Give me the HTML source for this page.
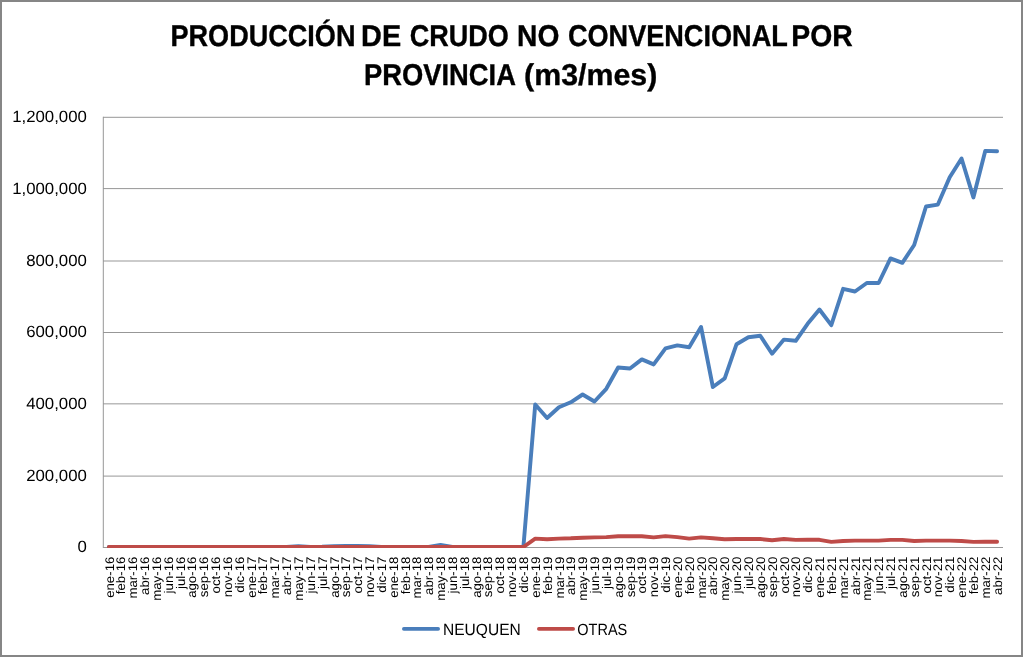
<!DOCTYPE html>
<html><head><meta charset="utf-8"><style>
html,body{margin:0;padding:0;background:#fff;}
body{width:1023px;height:657px;overflow:hidden;}
svg{display:block;font-family:"Liberation Sans",sans-serif;will-change:transform;text-rendering:geometricPrecision;}
</style></head><body>
<svg width="1023" height="657" viewBox="0 0 1023 657">
<rect x="0" y="0" width="1023" height="657" fill="#fff"/>
<g font-weight="bold" fill="#000" stroke="#000" stroke-width="0.35"><text font-size="30.0" transform="translate(170.50,45.7) scale(0.9023,1)">PRODUCCIÓN</text><text font-size="30.0" transform="translate(361.10,45.7) scale(0.9610,1)">DE</text><text font-size="30.0" transform="translate(409.80,45.7) scale(0.9003,1)">CRUDO</text><text font-size="30.0" transform="translate(517.10,45.7) scale(0.9392,1)">NO</text><text font-size="30.0" transform="translate(567.90,45.7) scale(0.9035,1)">CONVENCIONAL</text><text font-size="30.0" transform="translate(791.30,45.7) scale(0.9450,1)">POR</text><text font-size="30.0" transform="translate(364.00,84.9) scale(0.9111,1)">PROVINCIA</text><text font-size="30.0" transform="translate(524.10,84.9) scale(1.0116,1)">(m3/mes)</text></g>
<g stroke="#979797" stroke-width="1"><line x1="103" y1="117.3" x2="1003" y2="117.3"/><line x1="103" y1="188.6" x2="1003" y2="188.6"/><line x1="103" y1="261.0" x2="1003" y2="261.0"/><line x1="103" y1="332.5" x2="1003" y2="332.5"/><line x1="103" y1="403.85" x2="1003" y2="403.85"/><line x1="103" y1="476.1" x2="1003" y2="476.1"/>
<line x1="103.3" y1="116.8" x2="103.3" y2="548"/>
<line x1="103" y1="547.5" x2="1003" y2="547.5"/>
</g>
<g font-size="16.3" fill="#000"><text transform="translate(86.8,122.40) scale(1.03,1)" text-anchor="end">1,200,000</text><text transform="translate(86.8,194.07) scale(1.03,1)" text-anchor="end">1,000,000</text><text transform="translate(86.8,265.73) scale(1.03,1)" text-anchor="end">800,000</text><text transform="translate(86.8,337.40) scale(1.03,1)" text-anchor="end">600,000</text><text transform="translate(86.8,409.07) scale(1.03,1)" text-anchor="end">400,000</text><text transform="translate(86.8,480.73) scale(1.03,1)" text-anchor="end">200,000</text><text transform="translate(86.8,552.40) scale(1.03,1)" text-anchor="end">0</text></g>
<g font-size="12.5" fill="#000"><text transform="translate(113.52,556.6) rotate(-90) scale(1.06,1)" text-anchor="end">ene-16</text><text transform="translate(125.36,556.6) rotate(-90) scale(1.06,1)" text-anchor="end">feb-16</text><text transform="translate(137.21,556.6) rotate(-90) scale(1.06,1)" text-anchor="end">mar-16</text><text transform="translate(149.05,556.6) rotate(-90) scale(1.06,1)" text-anchor="end">abr-16</text><text transform="translate(160.89,556.6) rotate(-90) scale(1.06,1)" text-anchor="end">may-16</text><text transform="translate(172.73,556.6) rotate(-90) scale(1.06,1)" text-anchor="end">jun-16</text><text transform="translate(184.57,556.6) rotate(-90) scale(1.06,1)" text-anchor="end">jul-16</text><text transform="translate(196.42,556.6) rotate(-90) scale(1.06,1)" text-anchor="end">ago-16</text><text transform="translate(208.26,556.6) rotate(-90) scale(1.06,1)" text-anchor="end">sep-16</text><text transform="translate(220.10,556.6) rotate(-90) scale(1.06,1)" text-anchor="end">oct-16</text><text transform="translate(231.94,556.6) rotate(-90) scale(1.06,1)" text-anchor="end">nov-16</text><text transform="translate(243.78,556.6) rotate(-90) scale(1.06,1)" text-anchor="end">dic-16</text><text transform="translate(255.63,556.6) rotate(-90) scale(1.06,1)" text-anchor="end">ene-17</text><text transform="translate(267.47,556.6) rotate(-90) scale(1.06,1)" text-anchor="end">feb-17</text><text transform="translate(279.31,556.6) rotate(-90) scale(1.06,1)" text-anchor="end">mar-17</text><text transform="translate(291.15,556.6) rotate(-90) scale(1.06,1)" text-anchor="end">abr-17</text><text transform="translate(302.99,556.6) rotate(-90) scale(1.06,1)" text-anchor="end">may-17</text><text transform="translate(314.84,556.6) rotate(-90) scale(1.06,1)" text-anchor="end">jun-17</text><text transform="translate(326.68,556.6) rotate(-90) scale(1.06,1)" text-anchor="end">jul-17</text><text transform="translate(338.52,556.6) rotate(-90) scale(1.06,1)" text-anchor="end">ago-17</text><text transform="translate(350.36,556.6) rotate(-90) scale(1.06,1)" text-anchor="end">sep-17</text><text transform="translate(362.21,556.6) rotate(-90) scale(1.06,1)" text-anchor="end">oct-17</text><text transform="translate(374.05,556.6) rotate(-90) scale(1.06,1)" text-anchor="end">nov-17</text><text transform="translate(385.89,556.6) rotate(-90) scale(1.06,1)" text-anchor="end">dic-17</text><text transform="translate(397.73,556.6) rotate(-90) scale(1.06,1)" text-anchor="end">ene-18</text><text transform="translate(409.57,556.6) rotate(-90) scale(1.06,1)" text-anchor="end">feb-18</text><text transform="translate(421.42,556.6) rotate(-90) scale(1.06,1)" text-anchor="end">mar-18</text><text transform="translate(433.26,556.6) rotate(-90) scale(1.06,1)" text-anchor="end">abr-18</text><text transform="translate(445.10,556.6) rotate(-90) scale(1.06,1)" text-anchor="end">may-18</text><text transform="translate(456.94,556.6) rotate(-90) scale(1.06,1)" text-anchor="end">jun-18</text><text transform="translate(468.78,556.6) rotate(-90) scale(1.06,1)" text-anchor="end">jul-18</text><text transform="translate(480.63,556.6) rotate(-90) scale(1.06,1)" text-anchor="end">ago-18</text><text transform="translate(492.47,556.6) rotate(-90) scale(1.06,1)" text-anchor="end">sep-18</text><text transform="translate(504.31,556.6) rotate(-90) scale(1.06,1)" text-anchor="end">oct-18</text><text transform="translate(516.15,556.6) rotate(-90) scale(1.06,1)" text-anchor="end">nov-18</text><text transform="translate(527.99,556.6) rotate(-90) scale(1.06,1)" text-anchor="end">dic-18</text><text transform="translate(539.84,556.6) rotate(-90) scale(1.06,1)" text-anchor="end">ene-19</text><text transform="translate(551.68,556.6) rotate(-90) scale(1.06,1)" text-anchor="end">feb-19</text><text transform="translate(563.52,556.6) rotate(-90) scale(1.06,1)" text-anchor="end">mar-19</text><text transform="translate(575.36,556.6) rotate(-90) scale(1.06,1)" text-anchor="end">abr-19</text><text transform="translate(587.21,556.6) rotate(-90) scale(1.06,1)" text-anchor="end">may-19</text><text transform="translate(599.05,556.6) rotate(-90) scale(1.06,1)" text-anchor="end">jun-19</text><text transform="translate(610.89,556.6) rotate(-90) scale(1.06,1)" text-anchor="end">jul-19</text><text transform="translate(622.73,556.6) rotate(-90) scale(1.06,1)" text-anchor="end">ago-19</text><text transform="translate(634.57,556.6) rotate(-90) scale(1.06,1)" text-anchor="end">sep-19</text><text transform="translate(646.42,556.6) rotate(-90) scale(1.06,1)" text-anchor="end">oct-19</text><text transform="translate(658.26,556.6) rotate(-90) scale(1.06,1)" text-anchor="end">nov-19</text><text transform="translate(670.10,556.6) rotate(-90) scale(1.06,1)" text-anchor="end">dic-19</text><text transform="translate(681.94,556.6) rotate(-90) scale(1.06,1)" text-anchor="end">ene-20</text><text transform="translate(693.78,556.6) rotate(-90) scale(1.06,1)" text-anchor="end">feb-20</text><text transform="translate(705.63,556.6) rotate(-90) scale(1.06,1)" text-anchor="end">mar-20</text><text transform="translate(717.47,556.6) rotate(-90) scale(1.06,1)" text-anchor="end">abr-20</text><text transform="translate(729.31,556.6) rotate(-90) scale(1.06,1)" text-anchor="end">may-20</text><text transform="translate(741.15,556.6) rotate(-90) scale(1.06,1)" text-anchor="end">jun-20</text><text transform="translate(752.99,556.6) rotate(-90) scale(1.06,1)" text-anchor="end">jul-20</text><text transform="translate(764.84,556.6) rotate(-90) scale(1.06,1)" text-anchor="end">ago-20</text><text transform="translate(776.68,556.6) rotate(-90) scale(1.06,1)" text-anchor="end">sep-20</text><text transform="translate(788.52,556.6) rotate(-90) scale(1.06,1)" text-anchor="end">oct-20</text><text transform="translate(800.36,556.6) rotate(-90) scale(1.06,1)" text-anchor="end">nov-20</text><text transform="translate(812.21,556.6) rotate(-90) scale(1.06,1)" text-anchor="end">dic-20</text><text transform="translate(824.05,556.6) rotate(-90) scale(1.06,1)" text-anchor="end">ene-21</text><text transform="translate(835.89,556.6) rotate(-90) scale(1.06,1)" text-anchor="end">feb-21</text><text transform="translate(847.73,556.6) rotate(-90) scale(1.06,1)" text-anchor="end">mar-21</text><text transform="translate(859.57,556.6) rotate(-90) scale(1.06,1)" text-anchor="end">abr-21</text><text transform="translate(871.42,556.6) rotate(-90) scale(1.06,1)" text-anchor="end">may-21</text><text transform="translate(883.26,556.6) rotate(-90) scale(1.06,1)" text-anchor="end">jun-21</text><text transform="translate(895.10,556.6) rotate(-90) scale(1.06,1)" text-anchor="end">jul-21</text><text transform="translate(906.94,556.6) rotate(-90) scale(1.06,1)" text-anchor="end">ago-21</text><text transform="translate(918.78,556.6) rotate(-90) scale(1.06,1)" text-anchor="end">sep-21</text><text transform="translate(930.63,556.6) rotate(-90) scale(1.06,1)" text-anchor="end">oct-21</text><text transform="translate(942.47,556.6) rotate(-90) scale(1.06,1)" text-anchor="end">nov-21</text><text transform="translate(954.31,556.6) rotate(-90) scale(1.06,1)" text-anchor="end">dic-21</text><text transform="translate(966.15,556.6) rotate(-90) scale(1.06,1)" text-anchor="end">ene-22</text><text transform="translate(977.99,556.6) rotate(-90) scale(1.06,1)" text-anchor="end">feb-22</text><text transform="translate(989.84,556.6) rotate(-90) scale(1.06,1)" text-anchor="end">mar-22</text><text transform="translate(1001.68,556.6) rotate(-90) scale(1.06,1)" text-anchor="end">abr-22</text></g>
<defs><clipPath id="pc"><rect x="103" y="100" width="900" height="448"/></clipPath></defs>
<g fill="none" stroke-width="3.9" stroke-linejoin="round" stroke-linecap="round" clip-path="url(#pc)">
<polyline stroke="#4A7EBB" points="108.92,547.00 120.76,547.00 132.61,547.00 144.45,547.00 156.29,547.00 168.13,547.00 179.97,547.00 191.82,547.00 203.66,547.00 215.50,547.00 227.34,547.00 239.18,547.00 251.03,547.00 262.87,547.00 274.71,547.00 286.55,547.00 298.39,546.10 310.24,547.00 322.08,546.80 333.92,546.10 345.76,546.00 357.61,546.00 369.45,546.20 381.29,547.00 393.13,547.00 404.97,547.00 416.82,547.00 428.66,547.00 440.50,544.90 452.34,547.00 464.18,547.00 476.03,547.00 487.87,547.00 499.71,547.00 511.55,547.00 523.39,547.00 535.24,404.50 547.08,418.00 558.92,407.20 570.76,402.30 582.61,394.50 594.45,401.50 606.29,388.80 618.13,367.50 629.97,368.50 641.82,359.40 653.66,364.40 665.50,348.40 677.34,345.40 689.18,347.20 701.03,327.00 712.87,387.00 724.71,378.40 736.55,344.20 748.39,337.20 760.24,335.70 772.08,353.70 783.92,339.60 795.76,340.80 807.61,323.80 819.45,309.50 831.29,325.20 843.13,288.80 854.97,291.50 866.82,283.00 878.66,283.00 890.50,258.40 902.34,262.80 914.18,245.00 926.03,206.50 937.87,204.60 949.71,177.20 961.55,158.50 973.39,197.40 985.24,150.90 997.08,151.20"/>
<polyline stroke="#BE4B48" points="108.92,547.00 120.76,547.00 132.61,547.00 144.45,547.00 156.29,547.00 168.13,547.00 179.97,547.00 191.82,547.00 203.66,547.00 215.50,547.00 227.34,547.00 239.18,547.00 251.03,547.00 262.87,547.00 274.71,547.00 286.55,547.00 298.39,547.00 310.24,547.00 322.08,547.00 333.92,547.00 345.76,547.00 357.61,547.00 369.45,547.00 381.29,547.00 393.13,547.00 404.97,547.00 416.82,547.00 428.66,547.00 440.50,547.00 452.34,547.00 464.18,547.00 476.03,547.00 487.87,547.00 499.71,547.00 511.55,547.00 523.39,547.00 535.24,538.60 547.08,539.30 558.92,538.60 570.76,538.30 582.61,537.70 594.45,537.40 606.29,537.10 618.13,536.30 629.97,536.10 641.82,536.30 653.66,537.40 665.50,536.10 677.34,537.10 689.18,538.60 701.03,537.40 712.87,538.30 724.71,539.30 736.55,539.00 748.39,539.00 760.24,539.00 772.08,540.20 783.92,539.00 795.76,539.90 807.61,539.70 819.45,539.80 831.29,541.90 843.13,541.00 854.97,540.60 866.82,540.60 878.66,540.60 890.50,539.90 902.34,539.90 914.18,541.00 926.03,540.60 937.87,540.60 949.71,540.60 961.55,541.00 973.39,541.90 985.24,541.70 997.08,541.70"/>
</g>
<g stroke-width="3.6" stroke-linecap="round">
<line x1="403.8" y1="628.9" x2="438.2" y2="628.9" stroke="#4A7EBB"/>
<line x1="538.8" y1="628.9" x2="573.2" y2="628.9" stroke="#BE4B48"/>
</g>
<g font-size="16.3" fill="#000">
<text transform="translate(443,634.8) scale(0.955,1)">NEUQUEN</text>
<text transform="translate(577.3,634.8) scale(0.89,1)">OTRAS</text>
</g>
<rect x="1" y="1" width="1021" height="655" fill="none" stroke="#868686" stroke-width="2"/>
</svg>
</body></html>
